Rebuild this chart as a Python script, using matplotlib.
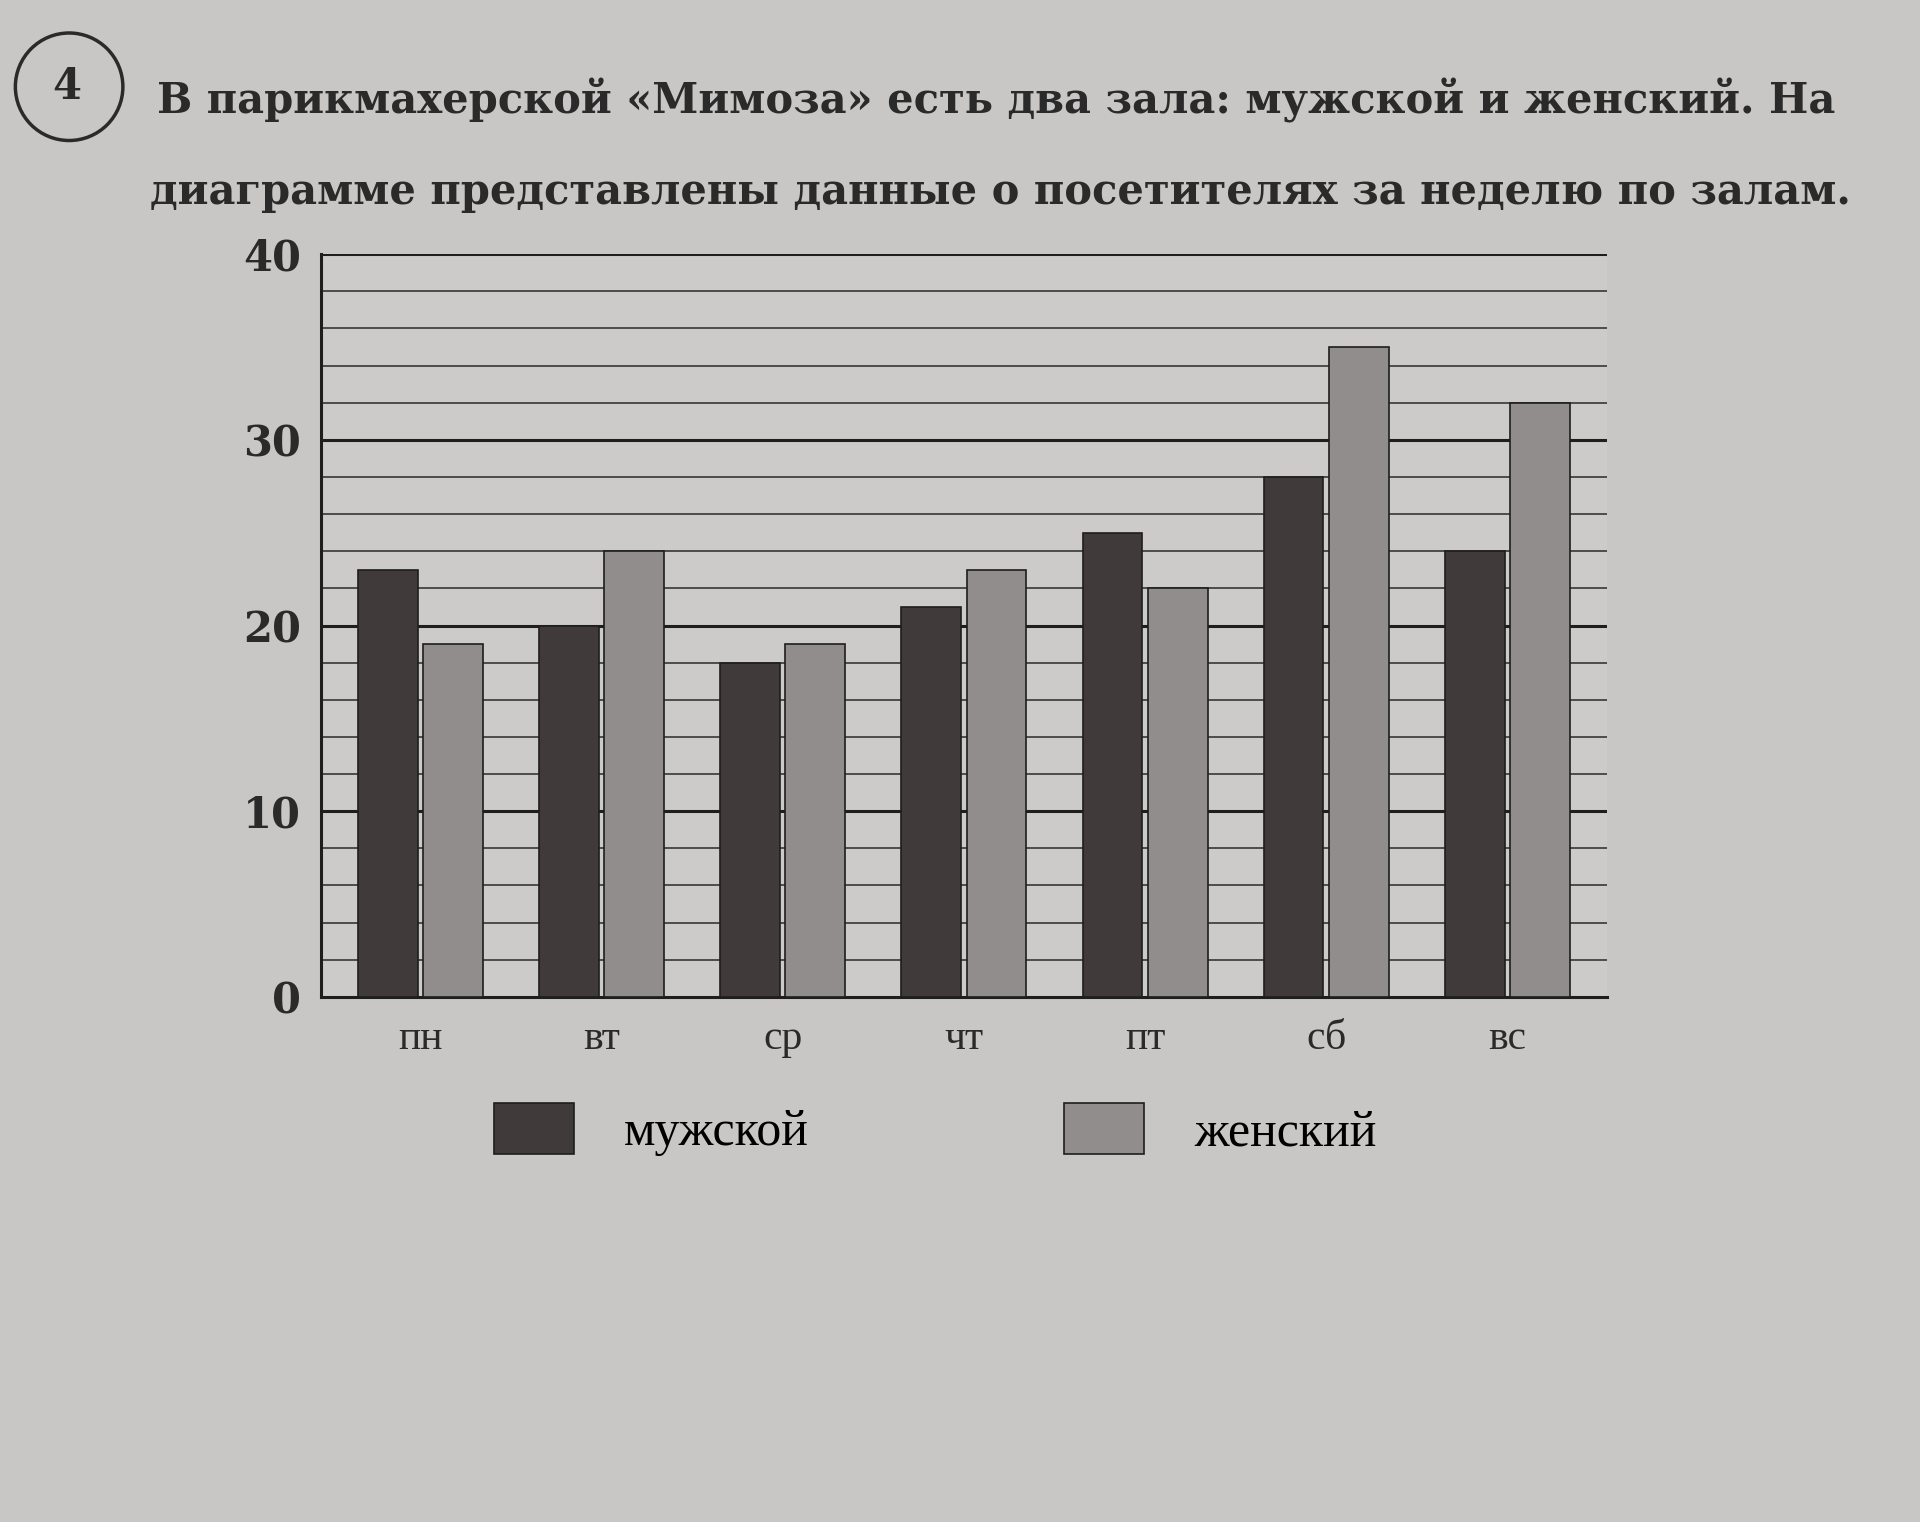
import numpy as np
import matplotlib
matplotlib.use('Agg')
import matplotlib.pyplot as plt
from matplotlib.patches import Ellipse

# данные диаграммы
days = ['пн', 'вт', 'ср', 'чт', 'пт', 'сб', 'вс']
men = [23, 20, 18, 21, 25, 28, 24]
women = [19, 24, 19, 23, 22, 35, 32]
series_names = ['мужской', 'женский']
yticks = [0, 10, 20, 30, 40]

paper = '#c9c7c5'
dark = '#403b3a'
light = '#908d8c'
ink = '#2a2a2a'

fig = plt.figure(figsize=(19.2, 15.22), dpi=100, facecolor=paper)

# номер задачи в кружке
r = 0.056
fig.patches.append(Ellipse((0.036, 0.943), r, r * 1920 / 1522,
                           transform=fig.transFigure, fill=False, lw=2.5,
                           ec=ink, figure=fig))
fig.text(0.035, 0.943, '4', ha='center', va='center', fontsize=30,
         fontweight='bold', family='DejaVu Serif', color=ink)

# текст условия
fig.text(0.082, 0.934,
         'В парикмахерской «Мимоза» есть два зала: мужской и женский. На',
         fontsize=30, fontweight='bold', family='DejaVu Serif', color=ink,
         va='center')
fig.text(0.078, 0.874,
         'диаграмме представлены данные о посетителях за неделю по залам.',
         fontsize=30, fontweight='bold', family='DejaVu Serif', color=ink,
         va='center')

ax = fig.add_axes([0.167, 0.345, 0.67, 0.488])
ax.set_facecolor('#cdcbc9')

x = np.arange(len(days))
w = 0.33
b1 = ax.bar(x - 0.18, men, width=w, color=dark, edgecolor='#1e1e1e',
            lw=1.2, zorder=3, label=series_names[0])
b2 = ax.bar(x + 0.18, women, width=w, color=light, edgecolor='#1e1e1e',
            lw=1.2, zorder=3, label=series_names[1])

# сетка: каждые 2, жирные линии каждые 10
for v in range(2, 41, 2):
    if v % 10 == 0:
        ax.axhline(v, color='#1e1e1e', lw=2.2, zorder=1)
    else:
        ax.axhline(v, color=ink, lw=1.1, zorder=1)

ax.set_xlim(-0.55, 6.55)
ax.set_ylim(0, 40)
ax.set_yticks(yticks)
ax.set_yticklabels([str(t) for t in yticks], fontsize=30, fontweight='bold',
                   family='DejaVu Serif', color=ink)
ax.set_xticks(x)
ax.set_xticklabels(days, fontsize=30, family='Liberation Serif', color=ink)
ax.tick_params(length=0, pad=14)
ax.tick_params(axis='x', pad=16)
for side in ['top', 'right']:
    ax.spines[side].set_visible(False)
for side in ['left', 'bottom']:
    ax.spines[side].set_linewidth(2.2)
    ax.spines[side].set_color('#1e1e1e')

fig.legend(handles=[b1, b2], labels=series_names, loc='center',
           bbox_to_anchor=(0.487, 0.258), ncol=2, frameon=False,
           prop={'family': 'Liberation Serif', 'size': 36},
           handlelength=1.6, handleheight=1.2, handletextpad=1.0,
           columnspacing=5.1)

fig.savefig('out.png', dpi=100, facecolor=paper)
